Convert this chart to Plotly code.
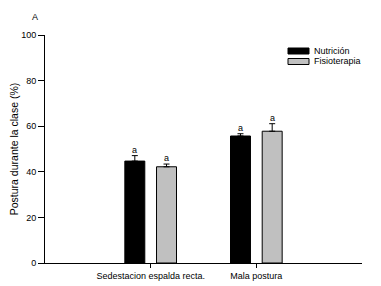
import plotly.graph_objects as go

categories = ["Sedestacion espalda recta.", "Mala postura"]
nutricion = [44.7, 55.7]
nutricion_err = [2.4, 1.0]
fisioterapia = [42.2, 57.8]
fisioterapia_err = [1.2, 3.3]
sig_labels_nut = ["a", "a"]
sig_labels_fis = ["a", "a"]
y_ticks = [0, 20, 40, 60, 80, 100]

FONT = "Liberation Sans, Arial, sans-serif"
OFF = 8  # page body margin in the browser
W, H = 381, 286
L, R, T, B = 45, 19, 35, 23  # screen-pixel positions of plot area edges
pw, ph = W - L - R, H - T - B

fig = go.Figure()
fig.add_trace(go.Bar(
    x=categories, y=nutricion, name="Nutrición",
    marker=dict(color="black", line=dict(color="black", width=1)),
    error_y=dict(type="data", array=nutricion_err, arrayminus=[0]*len(nutricion_err),
                 symmetric=False, color="black", thickness=1, width=3),
    showlegend=False,
))
fig.add_trace(go.Bar(
    x=categories, y=fisioterapia, name="Fisioterapia",
    marker=dict(color="#c0c0c0", line=dict(color="black", width=1)),
    error_y=dict(type="data", array=fisioterapia_err, arrayminus=[0]*len(fisioterapia_err),
                 symmetric=False, color="black", thickness=1, width=3),
    showlegend=False,
))

# significance letters
for i, c in enumerate(categories):
    fig.add_annotation(x=c, y=nutricion[i] + nutricion_err[i], text=sig_labels_nut[i],
                       xshift=-16, yshift=6, showarrow=False,
                       font=dict(family=FONT, size=9, color="black"))
    fig.add_annotation(x=c, y=fisioterapia[i] + fisioterapia_err[i], text=sig_labels_fis[i],
                       xshift=16, yshift=6, showarrow=False,
                       font=dict(family=FONT, size=9, color="black"))

def px(x):
    return (x - L) / pw

def py(y):
    return (H - B - y) / ph

# manual legend
legend_items = [("Nutrición", "black", 48, 54), ("Fisioterapia", "#c0c0c0", 58.5, 64.5)]
for name, col, y0, y1 in legend_items:
    fig.add_shape(type="rect", xref="paper", yref="paper",
                  x0=px(288), x1=px(309), y0=py(y1), y1=py(y0),
                  fillcolor=col, line=dict(color="black", width=1))
    fig.add_annotation(xref="paper", yref="paper", x=px(312), y=py((y0 + y1) / 2),
                       text=name, showarrow=False, xanchor="left", yanchor="middle",
                       font=dict(family=FONT, size=9, color="black"))

fig.add_annotation(xref="paper", yref="paper", x=px(35), y=py(17), text="A",
                   showarrow=False, xanchor="center", yanchor="middle",
                   font=dict(family=FONT, size=9, color="black"))

fig.update_layout(
    width=W - OFF, height=H - OFF,
    margin=dict(l=L - OFF, r=R, t=T - OFF, b=B, pad=0, autoexpand=False),
    paper_bgcolor="white", plot_bgcolor="white",
    barmode="group", bargap=0.4, bargroupgap=0.37,
    font=dict(family=FONT, size=9, color="black"),
    xaxis=dict(range=[-1, 2], showline=True, linecolor="black", linewidth=1,
               ticks="outside", ticklen=4, tickcolor="black", showgrid=False,
               zeroline=False, tickfont=dict(size=9), automargin=False),
    yaxis=dict(range=[0, 100], tickvals=y_ticks, showline=True, linecolor="black",
               linewidth=1, ticks="outside", ticklen=6, tickcolor="black",
               showgrid=False, zeroline=False, tickfont=dict(size=9), automargin=False,
               title=dict(text="Postura durante la clase (%)", font=dict(size=10.5), standoff=9)),
)

fig.write_html("out.html")
